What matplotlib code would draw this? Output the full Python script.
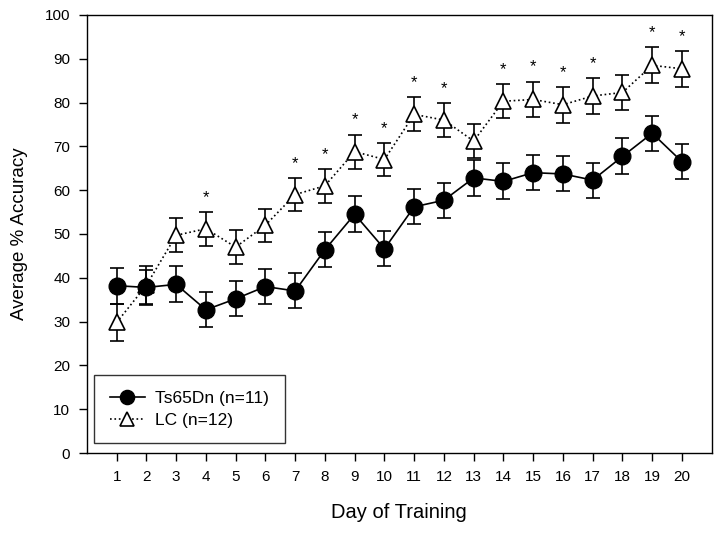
import numpy as np
import matplotlib.pyplot as plt

plt.rcParams['font.family'] = ['Liberation Sans', 'DejaVu Sans']

# Data
days = list(range(1, 21))
ts65dn_mean = [38.2, 37.8, 38.5, 32.7, 35.2, 38.0, 37.0, 46.4, 54.5, 46.6,
               56.2, 57.7, 62.8, 62.0, 64.0, 63.7, 62.3, 67.7, 73.0, 66.5]
ts65dn_err = [4.1, 4.0, 4.1, 4.0, 4.0, 4.0, 4.0, 4.0, 4.1, 4.0,
              4.0, 4.0, 4.1, 4.1, 4.0, 4.0, 4.0, 4.1, 4.0, 4.0]
lc_mean = [29.8, 38.3, 49.7, 51.2, 47.0, 52.0, 59.0, 61.0, 68.8, 67.0,
           77.3, 76.0, 71.2, 80.3, 80.7, 79.5, 81.5, 82.3, 88.5, 87.7]
lc_err = [4.2, 4.3, 3.9, 3.9, 3.8, 3.8, 3.8, 3.9, 3.9, 3.8,
          3.9, 3.9, 3.9, 3.9, 4.1, 4.1, 4.0, 4.1, 4.1, 4.1]
sig_days = [4, 7, 8, 9, 10, 11, 12, 14, 15, 16, 17, 19, 20]

fig = plt.figure(figsize=(7.24, 5.33), dpi=100)
ax = fig.add_axes([0.120, 0.150, 0.863, 0.822])

# error bars
ax.errorbar(days, ts65dn_mean, yerr=ts65dn_err, fmt='none', ecolor='black',
            elinewidth=1.2, capsize=5, capthick=1.2, zorder=2)
ax.errorbar(days, lc_mean, yerr=lc_err, fmt='none', ecolor='black',
            elinewidth=1.2, capsize=5, capthick=1.2, zorder=2)

# lines with markers
ax.plot(days, ts65dn_mean, '-', color='black', lw=1.2, marker='o',
        markersize=12, markerfacecolor='black', markeredgecolor='black',
        label='Ts65Dn (n=11)', zorder=4)
ax.plot(days, lc_mean, ':', color='black', lw=1.2, marker='^',
        markersize=11.5, markerfacecolor='white', markeredgecolor='black',
        markeredgewidth=1.2, label='LC (n=12)', zorder=3)

# significance stars
for d in sig_days:
    i = days.index(d)
    ax.text(d, lc_mean[i] + lc_err[i] + 3.3, '*', ha='center', va='center',
            fontsize=12)

ax.set_xlim(0, 21)
ax.set_ylim(0, 100)
ax.set_xticks(days)
ax.set_yticks(np.arange(0, 101, 10))
ax.tick_params(direction='out', length=6, width=1, labelsize=11, pad=6)
for s in ax.spines.values():
    s.set_linewidth(1)

ax.set_xlabel('Day of Training', fontsize=14.5, labelpad=14)
ax.set_ylabel('Average % Accuracy', fontsize=13.5, labelpad=12)

leg = ax.legend(loc='lower left', bbox_to_anchor=(0.012, 0.022), fontsize=12.5,
                frameon=True, fancybox=False, edgecolor='black',
                handlelength=2.0, handletextpad=0.6, markerscale=0.85,
                borderpad=0.9, labelspacing=0.4, borderaxespad=0)
leg.get_frame().set_linewidth(1)

plt.savefig('out.png', dpi=100)
